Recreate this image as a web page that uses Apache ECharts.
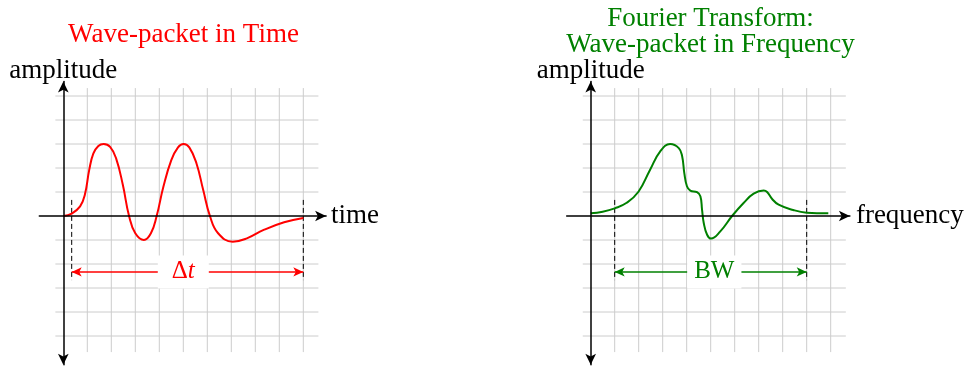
<!DOCTYPE html>
<html><head><meta charset="utf-8">
<script src="https://cdn.jsdelivr.net/npm/echarts@6/dist/echarts.min.js"></script>
<style>html,body{margin:0;padding:0;background:#fff}#c{width:964px;height:366px}</style>
</head><body><div id="c"></div>
<script>
// grid line positions (in grid units)
const gridX = [1, 2, 3, 4, 5, 6, 7, 8, 9, 10];
const gridY = [-5, -4, -3, -2, -1, 1, 2, 3, 4, 5];
// time-domain wave packet
const timeX = [0, 0.35, 0.7, 0.9, 1.08, 1.25, 1.46, 1.68, 1.95, 2.2, 2.48, 2.74, 3.0, 3.36, 3.65, 3.89, 4.17, 4.5, 4.78, 5.01, 5.25, 5.55, 5.83, 6.11, 6.45, 7.06, 7.65, 8.35, 9.2, 10];
const timeY = [0, 0.1, 0.4, 0.9, 1.92, 2.6, 2.92, 3.0, 2.88, 2.4, 1.3, 0, -0.72, -1.0, -0.72, 0, 1.22, 2.33, 2.86, 3.0, 2.86, 2.19, 1.08, 0, -0.72, -1.07, -0.93, -0.58, -0.26, -0.08];
// frequency-domain wave packet
const freqX = [0, 0.5, 1.0, 1.5, 1.99, 2.47, 2.89, 3.31, 3.67, 3.81, 3.9, 4.01, 4.15, 4.43, 4.57, 4.64, 4.71, 4.85, 5.01, 5.4, 5.89, 6.37, 6.79, 7.21, 7.35, 7.56, 7.83, 8.44, 9.0, 9.9];
const freqY = [0.11, 0.18, 0.32, 0.55, 1.01, 1.92, 2.68, 3.0, 2.83, 2.49, 1.79, 1.24, 1.06, 0.99, 0.82, 0.26, -0.29, -0.78, -0.94, -0.64, 0, 0.54, 0.93, 1.06, 1.0, 0.71, 0.47, 0.25, 0.14, 0.11];
// width markers: [start, end, arrow level, dashed top, dashed bottom, label x]
const timeMarker = [0.35, 10, -2.33, 0.67, -2.67, 5];
const freqMarker = [1, 9, -2.33, 0.67, -2.67, 5.15];
const titles = ['Wave-packet in Time', 'Fourier Transform:', 'Wave-packet in Frequency'];
const axisNames = ['amplitude', 'time', 'frequency'];

const FONT = '"Liberation Serif", "Times New Roman", serif';
const RED = '#ff0000', GREEN = '#008000', GRAY = '#cccccc';

function zip(a, b) { return a.map((v, i) => [v, b[i]]); }
function gridSegs() {
  const s = [];
  gridX.forEach(x => s.push([x, -5.67, x, 5.33]));
  gridY.forEach(y => s.push([-0.33, y, 10.63, y]));
  return s;
}
function segRender(stroke, width, dash) {
  return function (params, api) {
    const p1 = api.coord([api.value(0), api.value(1)]);
    const p2 = api.coord([api.value(2), api.value(3)]);
    return {type: 'line', shape: {x1: p1[0], y1: p1[1], x2: p2[0], y2: p2[1]},
      style: {stroke: stroke, lineWidth: width, lineDash: dash || null}};
  };
}
function axes(idx, xmax, xname, xgap) {
  const common = {
    gridIndex: idx, type: 'value', z: 10,
    axisTick: {show: false}, axisLabel: {show: false}, splitLine: {show: false},
    nameTextStyle: {fontFamily: FONT, fontSize: 27, color: '#000', verticalAlign: 'middle'}
  };
  return {
    x: Object.assign({}, common, {min: -1, max: xmax, name: xname, nameLocation: 'end', nameGap: xgap,
      axisLine: {onZero: true, symbol: ['none', 'arrow'], symbolSize: [8, 11], lineStyle: {color: '#000', width: 1.5}}}),
    y: Object.assign({}, common, {min: -6.2, max: 5.6, name: axisNames[0], nameLocation: 'end', nameGap: 11,
      nameTextStyle: Object.assign({}, common.nameTextStyle, {align: 'center'}),
      axisLine: {onZero: true, symbol: ['arrow', 'arrow'], symbolSize: [8, 11], lineStyle: {color: '#000', width: 1.5}}})
  };
}
function seriesFor(idx, xs, ys, m, color, labelFmt, rich) {
  const dashed = [[m[0], m[3], m[0], m[4]], [m[1], m[3], m[1], m[4]]];
  return [
    {type: 'custom', xAxisIndex: idx, yAxisIndex: idx, z: 1, silent: true,
      renderItem: segRender(GRAY, 1), encode: {x: [0, 2], y: [1, 3]}, data: gridSegs()},
    {type: 'custom', xAxisIndex: idx, yAxisIndex: idx, z: 3, silent: true,
      renderItem: segRender('#000', 1, [5, 3]), encode: {x: [0, 2], y: [1, 3]}, data: dashed},
    {type: 'line', xAxisIndex: idx, yAxisIndex: idx, z: 4, smooth: 0.45, showSymbol: false, silent: true,
      lineStyle: {color: color, width: 2}, data: zip(xs, ys),
      markLine: {silent: true, symbol: ['arrow', 'arrow'], symbolSize: [7, 10], animation: false,
        lineStyle: {color: color, width: 1.5, type: 'solid'}, label: {show: false},
        data: [[{coord: [m[0], m[2]]}, {coord: [m[1], m[2]]}]]}},
    {type: 'scatter', xAxisIndex: idx, yAxisIndex: idx, z: 6, symbolSize: 0, silent: true,
      itemStyle: {opacity: 1}, data: [[m[5], m[2]]],
      label: {show: true, position: 'inside', formatter: labelFmt, backgroundColor: '#fff', opacity: 1,
        padding: idx === 0 ? [4, 14, 4, 14] : [4, 7, 4, 7], rich: rich,
        fontFamily: FONT, fontSize: 25, color: color}}
  ];
}

const chart = echarts.init(document.getElementById('c'), null, {renderer: 'canvas'});
const a0 = axes(0, 10.95, axisNames[1], 5);
const a1 = axes(1, 10.8, axisNames[2], 6);
chart.setOption({
  animation: false,
  backgroundColor: '#fff',
  grid: [
    {left: 39.3, top: 81.6, width: 11.95 * 24, height: 11.8 * 24, outerBoundsMode: 'none', containLabel: false},
    {left: 566.7, top: 81.6, width: 11.8 * 24, height: 11.8 * 24, outerBoundsMode: 'none', containLabel: false}
  ],
  xAxis: [a0.x, a1.x],
  yAxis: [a0.y, a1.y],
  graphic: [
    {type: 'text', x: 183.5, y: 35, style: {text: titles[0], fill: RED, font: '27px ' + FONT, align: 'center', verticalAlign: 'middle'}},
    {type: 'text', x: 710.5, y: 19, style: {text: titles[1], fill: GREEN, font: '27px ' + FONT, align: 'center', verticalAlign: 'middle'}},
    {type: 'text', x: 710.5, y: 45, style: {text: titles[2], fill: GREEN, font: '27px ' + FONT, align: 'center', verticalAlign: 'middle'}}
  ],
  series: [].concat(
    seriesFor(0, timeX, timeY, timeMarker, RED, '{d|Δ}{t|t}',
      {d: {fontFamily: FONT, fontSize: 25, color: RED}, t: {fontFamily: FONT, fontSize: 25, color: RED, fontStyle: 'italic'}}),
    seriesFor(1, freqX, freqY, freqMarker, GREEN, 'BW', {})
  )
});
</script></body></html>
